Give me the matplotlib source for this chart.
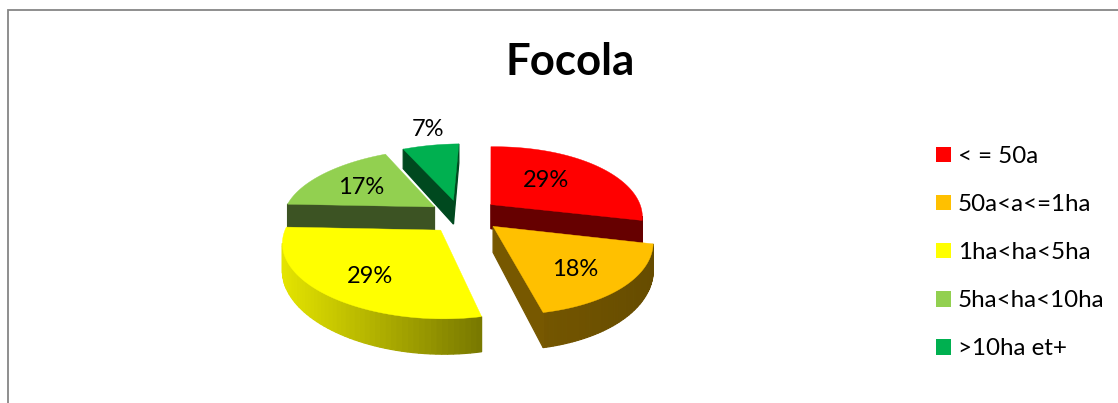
import numpy as np
import matplotlib
matplotlib.use('Agg')
import matplotlib.pyplot as plt
from matplotlib.patches import Patch, Polygon
from matplotlib.colors import to_rgb

plt.rcParams['font.family'] = ['Lato', 'DejaVu Sans']

title = 'Focola'
categories = ['< = 50a', '50a<a<=1ha', '1ha<ha<5ha', '5ha<ha<10ha', '>10ha et+']
values = [29, 18, 29, 17, 7]
colors = ['#FF0000', '#FFC000', '#FFFF00', '#92D050', '#00B050']

# side shading of each slice: colour at its left and right end
side_colors = [('#660000', '#660000'), ('#7a5a00', '#664c00'), ('#e4e400', '#777700'),
               ('#3c5323', '#3c5323'), ('#00491f', '#00491f')]
# back to front
draw_order = [4, 0, 3, 2, 1]

# pie geometry, in pixels
cx, cy = 464, 214.5
R, S, D = 152, 70, 25
persp = 0.16
depth_persp = 0.25
skew, bow, tilt = -2, 5, 1.5
explode = 0.23
# small per-slice offsets on top of the explode distance
slice_shift = {1: (4, 0), 2: (0, 3), 3: (-1, 1), 4: (-3, 1)}
# label placement along the bisector of each slice, plus a small hand nudge
label_dist = [0.6, 0.62, 0.62, 0.62, 1.6]
label_nudge = {0: (-10, 0), 1: (5, 8), 2: (-3, 8), 3: (-3, 2), 4: (5, 11)}


def project(x, y, bottom=False):
    w = 1 + persp * y
    sx = cx + (R * x + skew * y + bow * y ** 2) / w
    sy = cy - (S * y + tilt * x) / w
    if bottom:
        sy = sy + D / (1 + depth_persp * y)
    return sx, sy


def slice_outline(a0, a1):
    mid = np.radians((a0 + a1) / 2)
    ox, oy = explode * np.cos(mid), explode * np.sin(mid)
    ang = np.radians(np.linspace(a0, a1, 60))
    xs = np.r_[ox, ox + np.cos(ang)]
    ys = np.r_[oy, oy + np.sin(ang)]
    return xs, ys


fig = plt.figure(figsize=(11.18, 4.03), dpi=100)
ax = fig.add_axes([0, 0, 1, 1])
ax.set_xlim(0, 1118)
ax.set_ylim(403, 0)
ax.axis('off')

# chart frame, cut by the image edge
ax.plot([8, 8, 1118], [403, 10, 10], color='#868686', lw=1.3, solid_joinstyle='miter')

angles = 90 - np.cumsum([0] + values) * 360 / sum(values)

for i in draw_order:
    xs, ys = slice_outline(angles[i], angles[i + 1])
    tx, ty = project(xs, ys)
    bx, by = project(xs, ys, bottom=True)
    dx, dy = slice_shift.get(i, (0, 0))
    tx, bx = tx + dx, bx + dx
    ty, by = ty + dy, by + dy
    left, right = tx.min(), tx.max()
    c0, c1 = np.array(to_rgb(side_colors[i][0])), np.array(to_rgb(side_colors[i][1]))
    n = len(xs)
    for j in range(n):
        k = (j + 1) % n
        quad = np.array([[tx[j], ty[j]], [tx[k], ty[k]], [bx[k], by[k]], [bx[j], by[j]]])
        px, py = quad[:, 0], quad[:, 1]
        area = 0.5 * np.sum(px * np.roll(py, -1) - np.roll(px, -1) * py)
        # y grows downwards here, so visible faces come out negative
        if area >= 0:
            continue
        t = (px.mean() - left) / max(right - left, 1)
        col = c0 + (c1 - c0) * t
        ax.add_patch(Polygon(quad, closed=True, facecolor=col, edgecolor=col, lw=0.9))
    ax.add_patch(Polygon(np.c_[tx, ty], closed=True, facecolor=colors[i], edgecolor=colors[i], lw=0.3))

    # percentage label on the top face
    mid = np.radians((angles[i] + angles[i + 1]) / 2)
    dist = explode + label_dist[i]
    lx, ly = project(dist * np.cos(mid), dist * np.sin(mid))
    nx, ny = label_nudge[i]
    ax.text(lx + nx + dx, ly + ny + dy, f'{values[i]}%', ha='center', va='center', fontsize=17, color='black')

ax.text(570, 62, title, ha='center', va='center', fontsize=31.5, fontweight='bold', color='black')

handles = [Patch(facecolor=c, edgecolor='none') for c in colors]
fig.legend(handles, categories, loc='upper left', bbox_to_anchor=(936 / 1118, 1 - 146 / 403),
           frameon=False, fontsize=17.4, handlelength=0.62, handleheight=0.62,
           labelspacing=1.12, handletextpad=0.29, borderpad=0, borderaxespad=0)

fig.savefig('out.png', dpi=100)
